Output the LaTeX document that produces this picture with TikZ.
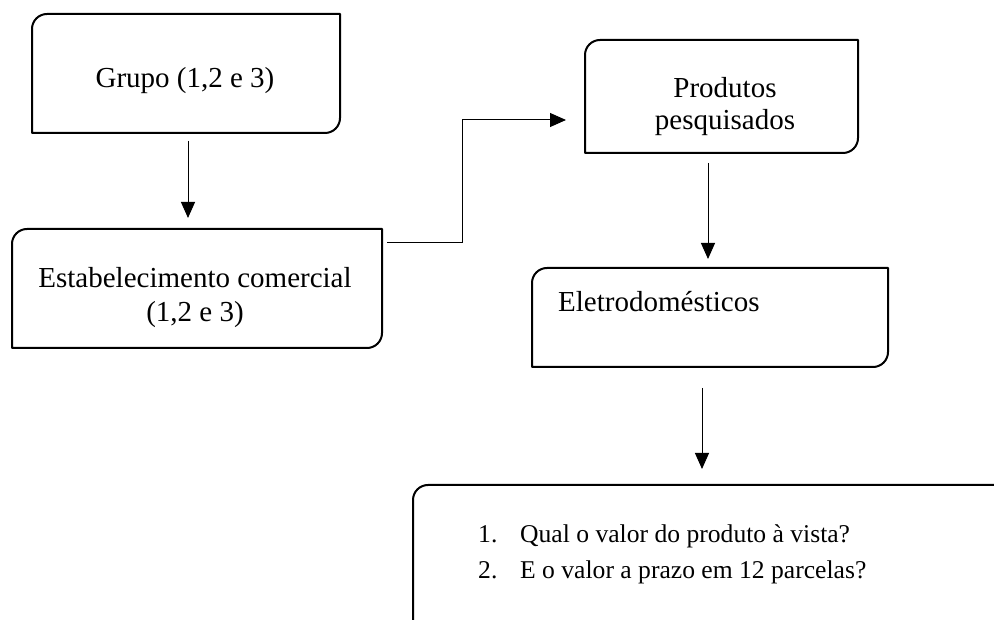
\documentclass[tikz,border=0pt]{standalone}
\usepackage{fontspec}
\setmainfont{Liberation Serif}
\usetikzlibrary{arrows.meta}
\tikzset{
  boxarea/.style={rectangle, draw=none, inner sep=0pt, outer sep=0pt},
  boxline/.style={line width=2pt, line join=round},
  arr/.style={line width=1pt, -{Triangle[length=16pt,width=14pt]}},
  txt/.style={inner sep=0pt, font=\fontsize{29}{35}\selectfont},
  listtxt/.style={inner sep=0pt, font=\fontsize{25.6}{31}\selectfont}
}
\newcommand\drawdiagbox[1]{%
  \draw[boxline] (#1.south west) -- ([yshift=-15pt]#1.north west)
    arc[start angle=180,end angle=90,radius=15pt] -- (#1.north east)
    -- ([yshift=15pt]#1.south east)
    arc[start angle=0,end angle=-90,radius=15pt] -- cycle;}
\begin{document}
\begin{tikzpicture}[x=1pt,y=1pt]
\useasboundingbox (0,0) rectangle (994,619);
\clip (0,0) rectangle (994,619);
\fill[white] (0,0) rectangle (994,619);

% boxes
\node[boxarea, minimum width=308pt, minimum height=119pt] (g) at (186,545.5) {};
\node[boxarea, minimum width=370pt, minimum height=119pt] (e) at (197,330.5) {};
\node[boxarea, minimum width=273pt, minimum height=113pt] (p) at (721.5,522.5) {};
\node[boxarea, minimum width=356pt, minimum height=99pt] (el) at (710,301.5) {};
\node[boxarea, minimum width=600pt, minimum height=154pt] (q) at (713,57) {};

\drawdiagbox{g}
\drawdiagbox{e}
\drawdiagbox{p}
\drawdiagbox{el}
\draw[boxline] ([yshift=-40pt]q.south west) -- ([yshift=-15pt]q.north west)
  arc[start angle=180,end angle=90,radius=15pt] -- ([xshift=20pt]q.north east);

% texts
\node[txt, anchor=base] (tg) at (185,531) {Grupo (1,2 e 3)};
\node[txt, anchor=base] (te1) at (195,331) {Estabelecimento comercial};
\node[txt, anchor=base] (te2) at (195,297) {(1,2 e 3)};
\node[txt, anchor=base] (tp1) at (725,521) {Produtos};
\node[txt, anchor=base] (tp2) at (725,489) {pesquisados};
\node[txt, anchor=base west] (tel) at (558,307) {Eletrodomésticos};
\node[listtxt, anchor=base west] (n1) at (478,76) {1.};
\node[listtxt, anchor=base west] (l1) at (520,76) {Qual o valor do produto à vista?};
\node[listtxt, anchor=base west] (n2) at (478,41) {2.};
\node[listtxt, anchor=base west] (l2) at (520,41) {E o valor a prazo em 12 parcelas?};

% connectors
\coordinate (a1s) at ([xshift=2pt,yshift=-8pt]g.south);
\coordinate (a1e) at ([yshift=11pt]e.north);
\draw[arr] (a1s) -- (a1s |- a1e);

\coordinate (a2s) at ([xshift=5pt,yshift=-14pt]e.north east);
\coordinate (a2m) at ([xshift=75pt]a2s);
\coordinate (a2e) at ([xshift=-19pt,yshift=-23.5pt]p.west);
\draw[arr] (a2s) -- (a2m) |- (a2e);

\coordinate (a3s) at ([xshift=-13.5pt,yshift=-10pt]p.south);
\coordinate (a3e) at ([yshift=9pt]el.north);
\draw[arr] (a3s) -- (a3s |- a3e);

\coordinate (a4s) at ([xshift=-8pt,yshift=-21pt]el.south);
\coordinate (a4e) at ([yshift=16pt]q.north);
\draw[arr] (a4s) -- (a4s |- a4e);
\end{tikzpicture}
\end{document}
